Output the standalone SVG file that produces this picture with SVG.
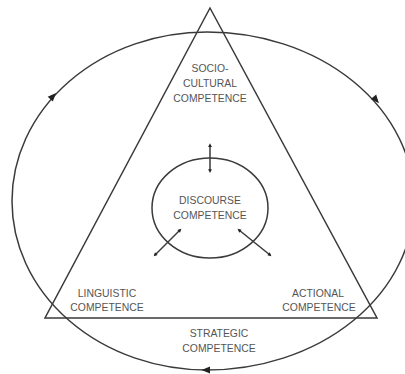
<svg xmlns="http://www.w3.org/2000/svg" width="405" height="374" viewBox="0 0 405 374">
<style>
.ln{fill:none;stroke:#3a3a3a;stroke-width:1.5}
.lbl{font-family:"Liberation Sans",Arial,sans-serif;font-size:10.4px;fill:#555;text-anchor:middle}
.ah{fill:#222}
</style>
<defs>
<path id="ah" d="M1.5,0 L-7,-3.5 L-7,3.5 Z"/>
<marker id="m" viewBox="-4 -4 8 8" markerWidth="5" markerHeight="5" refX="0" refY="0" orient="auto-start-reverse" markerUnits="userSpaceOnUse">
<path d="M3,0 L-3,-3 L-3,3 Z" fill="#222"/>
</marker>
</defs>
<rect width="405" height="374" fill="#fff"/>
<g id="strategic-cycle">
<path class="ln" d="M207 32 A207 169 0 0 1 207 370" stroke="#555" stroke-width="1.3"/>
<path class="ln" d="M207 370 A195 169 0 0 1 207 32" stroke-width="1.8" stroke="#333"/>
</g>
<g id="triangle">
<polygon class="ln" points="210,8 377,318 45,318"/>
</g>
<g id="discourse">
<ellipse class="ln" cx="210" cy="208" rx="58" ry="50"/>
<text class="lbl" x="210" y="204">DISCOURSE</text>
<text class="lbl" x="210" y="219">COMPETENCE</text>
</g>
<g id="socio-cultural">
<text class="lbl" x="210" y="72">SOCIO-</text>
<text class="lbl" x="210" y="87">CULTURAL</text>
<text class="lbl" x="210" y="102">COMPETENCE</text>
</g>
<g id="linguistic">
<text class="lbl" x="107" y="297">LINGUISTIC</text>
<text class="lbl" x="107" y="311">COMPETENCE</text>
</g>
<g id="actional">
<text class="lbl" x="318" y="297">ACTIONAL</text>
<text class="lbl" x="319" y="311">COMPETENCE</text>
</g>
<g id="strategic">
<text class="lbl" x="219" y="337">STRATEGIC</text>
<text class="lbl" x="219" y="352">COMPETENCE</text>
</g>
<g id="connectors">
<use href="#ah" class="ah" transform="translate(55,94) rotate(-47.5)"/>
<use href="#ah" class="ah" transform="translate(378,102) rotate(49.6)"/>
<use href="#ah" class="ah" transform="translate(203,370) rotate(180)"/>
<line class="ln" x1="210" y1="145" x2="210" y2="171" stroke-width="1.3" marker-start="url(#m)" marker-end="url(#m)"/>
<line class="ln" x1="180" y1="230" x2="155" y2="255" stroke-width="1.3" marker-start="url(#m)" marker-end="url(#m)"/>
<line class="ln" x1="239" y1="230" x2="270" y2="255" stroke-width="1.3" marker-start="url(#m)" marker-end="url(#m)"/>
</g>
</svg>
